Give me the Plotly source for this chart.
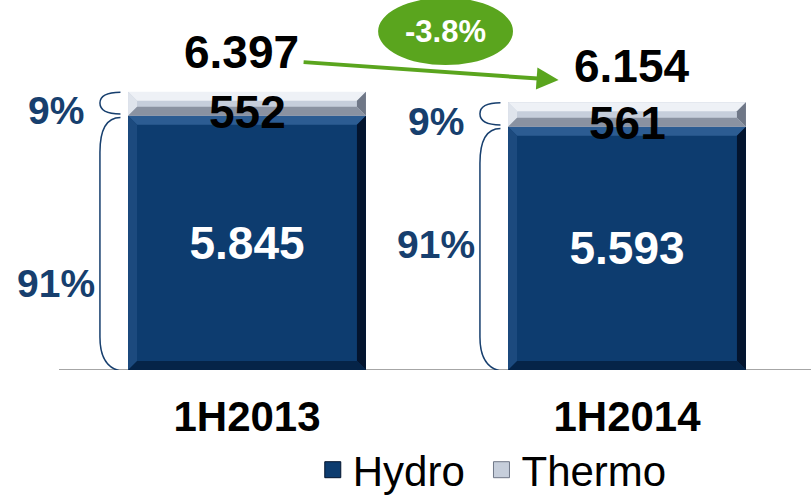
import plotly.graph_objects as go

periods = ["1H2013", "1H2014"]
hydro = [5845, 5593]
thermo = [552, 561]
totals = [6397, 6154]
hydro_share = ["91%", "91%"]
thermo_share = ["9%", "9%"]
change = "-3.8%"

HYDRO = "#0d3c6f"
THERMO = "#c6cedb"
PCT_BLUE = "#173f6e"
GREEN = "#5aa51e"
FONT = "Liberation Sans, Arial, sans-serif"

# bevel face colours: top, left, right, bottom
HYDRO_BEVEL = ["#2c5c92", "#1c4a7e", "#03142e", "#052448"]
THERMO_BEVEL = ["#eef1f6", "#dfe4ec", "#6f7787", "#8a92a1"]

PX_PER_UNIT = 0.0435   # vertical scale used to pick the axis range
PX_PER_X = 380
BAR_W = 0.626
x = [0, 1]


def fmt(v):
    return f"{v:,}".replace(",", ".")


def bevel(fig, xc, base, height, colors, size_px=9):
    l, r = xc - BAR_W / 2, xc + BAR_W / 2
    b, t = base, base + height
    bx = size_px / PX_PER_X
    by = min(size_px / PX_PER_UNIT, height * 0.45)
    faces = [
        [(l, t), (r, t), (r - bx, t - by), (l + bx, t - by)],
        [(l, b), (l, t), (l + bx, t - by), (l + bx, b + by)],
        [(r, b), (r, t), (r - bx, t - by), (r - bx, b + by)],
        [(l, b), (r, b), (r - bx, b + by), (l + bx, b + by)],
    ]
    for pts, c in zip(faces, colors):
        path = "M " + " L ".join(f"{px},{py}" for px, py in pts) + " Z"
        fig.add_shape(type="path", xref="x", yref="y", path=path,
                      fillcolor=c, line=dict(width=0), layer="above")


fig = go.Figure()
fig.add_trace(go.Bar(
    x=x, y=hydro, name="Hydro", width=BAR_W,
    marker=dict(color=HYDRO, line=dict(width=0)),
    text=[fmt(v) for v in hydro], textposition="inside", insidetextanchor="middle",
    textfont=dict(color="white", size=46, family=FONT, weight="bold"),
    showlegend=False,
))
fig.add_trace(go.Bar(
    x=x, y=thermo, name="Thermo", width=BAR_W,
    marker=dict(color=THERMO, line=dict(width=0)),
    showlegend=False,
))

# legend entries with larger square symbols
fig.add_trace(go.Scatter(x=[None], y=[None], mode="markers", name="Hydro\u00a0",
                         marker=dict(symbol="square", size=16, color=HYDRO,
                                     line=dict(color="#03142e", width=1))))
fig.add_trace(go.Scatter(x=[None], y=[None], mode="markers", name="Thermo",
                         marker=dict(symbol="square", size=16, color=THERMO,
                                     line=dict(color="#6f7787", width=1))))

hydro_label_pos = [0.34, 0.514]
total_xshift = [0, 11]
total_yshift = [12, 8]

for i in range(len(periods)):
    left = x[i] - BAR_W / 2
    bevel(fig, x[i], 0, hydro[i], HYDRO_BEVEL)
    bevel(fig, x[i], hydro[i], thermo[i], THERMO_BEVEL)
    # thermo value
    fig.add_annotation(x=x[i], y=hydro[i] + thermo[i] / 2, text=fmt(thermo[i]),
                       showarrow=False, yshift=-8,
                       font=dict(size=46, color="black", family=FONT, weight="bold"))
    # totals
    fig.add_annotation(x=x[i] - 0.015, y=totals[i], text=fmt(totals[i]),
                       showarrow=False, yanchor="bottom",
                       xshift=total_xshift[i], yshift=total_yshift[i],
                       font=dict(size=46, color="black", family=FONT, weight="bold"))
    # share labels
    fig.add_annotation(x=left - 0.19, y=hydro[i] + thermo[i] / 2, text=thermo_share[i],
                       showarrow=False, yshift=-7,
                       font=dict(size=39, color=PCT_BLUE, family=FONT, weight="bold"))
    fig.add_annotation(x=left - 0.19, y=hydro[i] * hydro_label_pos[i], text=hydro_share[i],
                       showarrow=False,
                       font=dict(size=39, color=PCT_BLUE, family=FONT, weight="bold"))

    # braces
    xl, xr = left - 0.074, left - 0.02
    yt, yb = totals[i] - 10, hydro[i] + 40
    ym = (yt + yb) / 2
    fig.add_shape(type="path", xref="x", yref="y",
                  path=f"M {xr},{yt} Q {xl},{yt} {xl},{ym} Q {xl},{yb} {xr},{yb}",
                  line=dict(color=PCT_BLUE, width=1.5))
    yt, yb, r = hydro[i] - 40, -40, 800
    fig.add_shape(type="path", xref="x", yref="y",
                  path=(f"M {xr},{yt} Q {xl},{yt} {xl},{yt - r} L {xl},{yb + r} "
                        f"Q {xl},{yb} {xr + 0.02},{yb}"),
                  line=dict(color=PCT_BLUE, width=1.5))

# change bubble and arrow
fig.add_shape(type="circle", xref="x", yref="y", x0=0.345, x1=0.70, y0=7011, y1=8560,
              fillcolor=GREEN, line=dict(color=GREEN, width=0))
fig.add_annotation(x=0.5225, y=7790, text=change, showarrow=False,
                   font=dict(size=31, color="white", family=FONT, weight="bold"))
fig.add_annotation(x=0.82, y=6667, ax=0.145, ay=7080, axref="x", ayref="y",
                   text="", showarrow=True, arrowhead=2, arrowsize=1.1,
                   arrowwidth=4, arrowcolor=GREEN)

# baseline
fig.add_shape(type="line", xref="paper", yref="y", x0=59 / 811, x1=1, y0=0, y1=0,
              line=dict(color="#a6a6a6", width=2), layer="below")

x0 = -247 / PX_PER_X
fig.update_layout(
    barmode="stack",
    width=811, height=498,
    margin=dict(l=0, r=0, t=0, b=128, autoexpand=False),
    plot_bgcolor="white", paper_bgcolor="white",
    font=dict(family=FONT),
    legend=dict(orientation="h", x=0.607, xanchor="center", y=-0.27, yanchor="middle",
                font=dict(size=42, color="black", family=FONT), itemwidth=30,
                traceorder="normal"),
    xaxis=dict(range=[x0, x0 + 811 / PX_PER_X], tickvals=x, ticktext=periods,
               showgrid=False, zeroline=False, showline=False, ticks="",
               ticklabelstandoff=18, automargin=False,
               tickfont=dict(size=42, color="black", family=FONT, weight="bold")),
    yaxis=dict(range=[0, 370 / PX_PER_UNIT], visible=False),
)

fig.write_html("out.html", config={"displayModeBar": False},
               post_script="document.body.style.margin='0px';")
